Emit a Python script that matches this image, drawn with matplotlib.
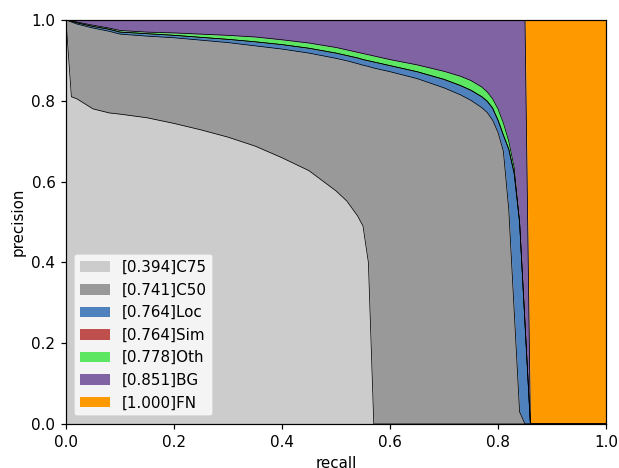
import numpy as np
from matplotlib import pyplot as plt

# recall grid (denser near the knees)
recall = [0.0, 0.01, 0.02, 0.05, 0.08, 0.1, 0.15, 0.2, 0.25, 0.3, 0.35, 0.4, 0.45, 0.5,
          0.52, 0.54, 0.55, 0.56, 0.57, 0.6, 0.65, 0.7, 0.73, 0.75, 0.77, 0.78, 0.79,
          0.8, 0.81, 0.82, 0.83, 0.84, 0.85, 0.86, 1.0]

precC75 = [1.0, 0.81, 0.805, 0.78, 0.77, 0.767, 0.758, 0.744, 0.728, 0.71, 0.688, 0.659, 0.627, 0.577,
           0.552, 0.515, 0.49, 0.40, 0.0, 0.0, 0.0, 0.0, 0.0, 0.0, 0.0, 0.0, 0.0,
           0.0, 0.0, 0.0, 0.0, 0.0, 0.0, 0.0, 0.0]
precC50 = [1.0, 0.995, 0.99, 0.98, 0.972, 0.965, 0.96, 0.956, 0.95, 0.944, 0.936, 0.928, 0.918, 0.905,
           0.899, 0.892, 0.888, 0.885, 0.881, 0.872, 0.855, 0.832, 0.815, 0.801, 0.783, 0.771, 0.752,
           0.722, 0.675, 0.53, 0.28, 0.03, 0.0, 0.0, 0.0]
precLoc = [1.0, 0.997, 0.993, 0.984, 0.977, 0.97, 0.966, 0.962, 0.957, 0.952, 0.946, 0.939, 0.93, 0.918,
           0.912, 0.906, 0.902, 0.899, 0.896, 0.887, 0.872, 0.853, 0.838, 0.826, 0.81, 0.799, 0.782,
           0.752, 0.715, 0.68, 0.62, 0.50, 0.25, 0.0, 0.0]
precSim = precLoc
precOth = [1.0, 0.998, 0.995, 0.987, 0.98, 0.974, 0.97, 0.968, 0.965, 0.962, 0.958, 0.951, 0.943, 0.932,
           0.926, 0.92, 0.917, 0.914, 0.911, 0.902, 0.889, 0.873, 0.861, 0.85, 0.834, 0.822, 0.805,
           0.78, 0.745, 0.70, 0.635, 0.50, 0.25, 0.0, 0.0]
precBG = [1.0] * 33 + [0.0, 0.0]
precFN = [1.0] * 35

types = ['C75', 'C50', 'Loc', 'Sim', 'Oth', 'BG', 'FN']
aps = [0.394, 0.741, 0.764, 0.764, 0.778, 0.851, 1.000]

cs = [[0.8, 0.8, 0.8], [0.6, 0.6, 0.6], [0.31, 0.51, 0.74], [0.75, 0.31, 0.30],
      [0.36, 0.90, 0.38], [0.50, 0.39, 0.64], [1, 0.6, 0]]


def plotPR(ax):

    rs = np.array(recall)
    curves = [np.zeros(len(rs))] + [np.array(p) for p in
                                     (precC75, precC50, precLoc, precSim, precOth, precBG, precFN)]

    for k in range(len(types)):
        ax.plot(rs, curves[k + 1], color=[0, 0, 0], linewidth=0.5)
        ax.fill_between(rs, curves[k], curves[k + 1], color=cs[k],
                        label='[{:.3f}]{}'.format(aps[k], types[k]), linewidth=0)

    ax.set_xlabel("recall")
    ax.set_ylabel("precision")
    ax.set_xlim(0, 1.0)
    ax.set_ylim(0, 1.0)
    ax.legend(loc="lower left")


if __name__ == '__main__':

    dpi = 109
    fig = plt.figure(figsize=(619 / dpi, 468 / dpi), dpi=dpi)
    ax = fig.add_axes([66 / 619, 44 / 468, 540 / 619, 404 / 468])
    plotPR(ax)
    fig.savefig("out.png", dpi=dpi)
